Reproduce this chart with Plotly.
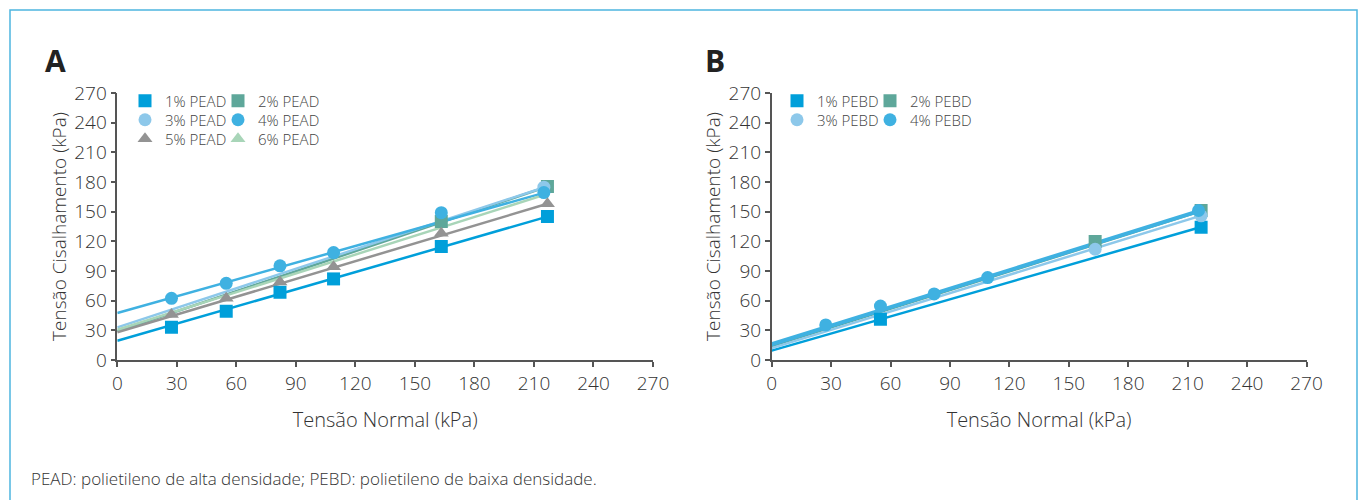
import plotly.graph_objects as go

# ---------------- data ----------------
x_stress = [27.3, 54.9, 82.0, 109.0, 163.3, 216.8]

# Chart A (PEAD) markers
pead_names = ["1% PEAD", "2% PEAD", "3% PEAD", "4% PEAD", "5% PEAD", "6% PEAD"]
pead_1_x = x_stress
pead_1_y = [33.0, 49.4, 68.5, 82.0, 114.7, 145.0]
pead_2_x = [163.3, 216.8]
pead_2_y = [140.0, 175.4]
pead_3_x = [215.0]
pead_3_y = [174.8]
pead_4_x = [27.3, 54.9, 82.0, 109.0, 163.3, 215.0]
pead_4_y = [62.4, 77.5, 95.2, 108.6, 149.0, 169.3]
pead_5_x = x_stress
pead_5_y = [46.0, 62.4, 79.0, 94.4, 128.2, 158.0]
pead_6_x = []
pead_6_y = []

# Chart A trendlines: value at 0 kPa and at the last normal stress
pead_trend_x_end = [216.8, 216.8, 215.0, 215.0, 216.8, 216.8]
pead_trend_start = [19.4, 29.0, 33.0, 47.5, 28.0, 30.5]
pead_trend_end = [145.0, 175.4, 174.5, 169.0, 158.0, 168.0]

# Chart B (PEBD) markers
pebd_names = ["1% PEBD", "2% PEBD", "3% PEBD", "4% PEBD"]
pebd_1_x = [54.9, 216.8]
pebd_1_y = [41.3, 134.3]
pebd_2_x = [163.3, 216.8]
pebd_2_y = [119.8, 151.2]
pebd_3_x = [163.3, 216.8]
pebd_3_y = [112.0, 145.8]
pebd_4_x = [27.3, 54.9, 82.0, 109.0, 215.5]
pebd_4_y = [35.5, 54.5, 66.8, 83.4, 151.2]

pebd_trend_x_end = [216.8, 216.8, 216.8, 215.5]
pebd_trend_start = [9.5, 14.0, 12.0, 15.9]
pebd_trend_end = [134.5, 150.5, 146.0, 150.5]

tick_vals = [0, 30, 60, 90, 120, 150, 180, 210, 240, 270]

# ---------------- style ----------------
C1 = "#009fda"
C2 = "#5ea79a"
C3 = "#8dc8ea"
C4 = "#3fb1e1"
C5 = "#939393"
C6 = "#a8d5b8"
FONT = "Open Sans"
TXT = "#333333"

W, H = 1358, 500

fig = go.Figure()

pead_markers = [
    (pead_1_x, pead_1_y, C1, "square"),
    (pead_2_x, pead_2_y, C2, "square"),
    (pead_3_x, pead_3_y, C3, "circle"),
    (pead_4_x, pead_4_y, C4, "circle"),
    (pead_5_x, pead_5_y, C5, "triangle-up"),
    (pead_6_x, pead_6_y, C6, "triangle-up"),
]
pebd_markers = [
    (pebd_1_x, pebd_1_y, C1, "square"),
    (pebd_2_x, pebd_2_y, C2, "square"),
    (pebd_3_x, pebd_3_y, C3, "circle"),
    (pebd_4_x, pebd_4_y, C4, "circle"),
]
pebd_widths = [2.5, 2.5, 2.5, 4]

# one legend box per entry (2 columns)
pead_leg_pos = [(125, 101), (218, 101), (125, 120), (218, 120), (125, 139), (218, 139)]
pebd_leg_pos = [(777, 101), (870, 101), (777, 120), (870, 120)]

# chart A
for i, (xs, ys, col, sym) in enumerate(pead_markers):
    fig.add_trace(go.Scatter(
        x=[0, pead_trend_x_end[i]], y=[pead_trend_start[i], pead_trend_end[i]],
        mode="lines", line=dict(color=col, width=2.5), showlegend=False,
        hoverinfo="skip", xaxis="x", yaxis="y"))
for i, (xs, ys, col, sym) in enumerate(pead_markers):
    fig.add_trace(go.Scatter(
        x=xs if xs else [None], y=ys if ys else [None], mode="markers",
        name=pead_names[i],
        marker=dict(symbol=sym, size=13, color=col, line=dict(width=0)),
        legend="legend" if i == 0 else f"legend{i + 1}", xaxis="x", yaxis="y"))

# chart B
for i, (xs, ys, col, sym) in enumerate(pebd_markers):
    fig.add_trace(go.Scatter(
        x=[0, pebd_trend_x_end[i]], y=[pebd_trend_start[i], pebd_trend_end[i]],
        mode="lines", line=dict(color=col, width=pebd_widths[i]), showlegend=False,
        hoverinfo="skip", xaxis="x2", yaxis="y2"))
for i, (xs, ys, col, sym) in enumerate(pebd_markers):
    fig.add_trace(go.Scatter(
        x=xs, y=ys, mode="markers", name=pebd_names[i],
        marker=dict(symbol=sym, size=13, color=col, line=dict(width=0)),
        legend=f"legend{i + 7}", xaxis="x2", yaxis="y2"))

axis_common = dict(
    range=[0, 270], tickmode="array", tickvals=tick_vals,
    showgrid=False, zeroline=False, showline=True, linecolor="#555555", linewidth=1.5,
    ticks="outside", ticklen=5, tickwidth=1.5, tickcolor="#555555",
    tickfont=dict(family=FONT, size=19, color=TXT, weight=300),
    fixedrange=True, automargin=False,
)

ydom = [(H - 360) / H, (H - 93) / H]
xtitle_font = dict(family=FONT, size=20, color=TXT, weight=300)
ytitle_font = dict(family=FONT, size=19, color=TXT, weight=300)

fig.update_layout(
    width=W, height=H,
    margin=dict(l=0, r=0, t=0, b=0, pad=0, autoexpand=False),
    paper_bgcolor="white", plot_bgcolor="white",
    font=dict(family=FONT, color=TXT),
    xaxis=dict(domain=[117.3 / W, 653 / W], anchor="y",
               title=dict(text="Tensão Normal (kPa)", standoff=18, font=xtitle_font),
               **axis_common),
    yaxis=dict(domain=ydom, anchor="x",
               title=dict(text="Tensão Cisalhamento (kPa)", standoff=3, font=ytitle_font),
               **axis_common),
    xaxis2=dict(domain=[771.7 / W, 1306.5 / W], anchor="y2",
                title=dict(text="Tensão Normal (kPa)", standoff=18, font=xtitle_font),
                **axis_common),
    yaxis2=dict(domain=ydom, anchor="x2",
                title=dict(text="Tensão Cisalhamento (kPa)", standoff=3, font=ytitle_font),
                **axis_common),
    showlegend=True,
)

leg_common = dict(orientation="h", xanchor="left", yanchor="middle",
                  bgcolor="rgba(0,0,0,0)", borderwidth=0,
                  font=dict(family=FONT, size=15, color="#444444", weight=300),
                  itemwidth=30, itemclick=False, itemdoubleclick=False,
                  tracegroupgap=0)
legends = {}
for i, (lx, ly) in enumerate(pead_leg_pos + pebd_leg_pos):
    key = "legend" if i == 0 else f"legend{i + 1}"
    legends[key] = dict(x=lx / W, y=1 - ly / H, **leg_common)
fig.update_layout(**legends)

fig.add_annotation(text="<b>A</b>", x=43 / W, y=1 - 60 / H, xref="paper", yref="paper",
                   xanchor="left", yanchor="middle", showarrow=False,
                   font=dict(family=FONT, size=30, color="#222222"))
fig.add_annotation(text="<b>B</b>", x=703 / W, y=1 - 60 / H, xref="paper", yref="paper",
                   xanchor="left", yanchor="middle", showarrow=False,
                   font=dict(family=FONT, size=30, color="#222222"))
fig.add_annotation(text="PEAD: polietileno de alta densidade; PEBD: polietileno de baixa densidade.",
                   x=29 / W, y=1 - 478 / H, xref="paper", yref="paper",
                   xanchor="left", yanchor="middle", showarrow=False,
                   font=dict(family=FONT, size=17, color=TXT, weight=300))

fig.add_shape(type="rect", xref="paper", yref="paper",
              x0=10 / W, x1=1357 / W, y0=-0.1, y1=1 - 10 / H,
              line=dict(color="#4db5e0", width=1.5), fillcolor="rgba(0,0,0,0)", layer="below")

pin_page = (
    "document.documentElement.style.margin='0';"
    "document.documentElement.style.overflow='hidden';"
    "document.body.style.margin='0';"
    "document.body.style.overflow='hidden';"
    "var gd=document.getElementById('{plot_id}');"
    "gd.style.position='fixed';gd.style.left='0px';gd.style.top='0px';"
)

fig.write_html("out.html", post_script=pin_page, config={"displayModeBar": False})
